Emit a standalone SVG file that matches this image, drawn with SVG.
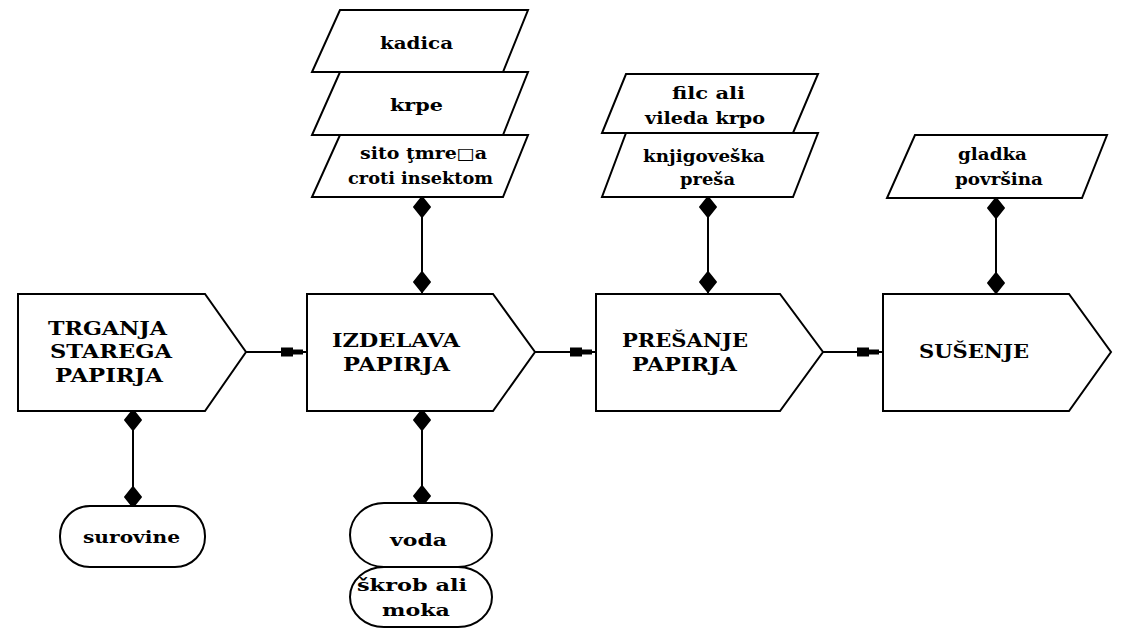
<svg xmlns="http://www.w3.org/2000/svg" xmlns:xlink="http://www.w3.org/1999/xlink" width="1123" height="628" viewBox="0 0 1123 628">
<style>
.shape{fill:#fff;stroke:#000;stroke-width:2;stroke-linejoin:miter}
.main{font-family:"DejaVu Serif","Liberation Serif",serif;font-weight:bold;font-size:18px;fill:#000}
.res{font-family:"DejaVu Serif","Liberation Serif",serif;font-weight:bold;font-size:16px;fill:#000}
.conn{stroke:#000;stroke-width:2;fill:none}
</style>
<defs>
<path id="dia" d="M0,-10 L8,0 L0,10 L-8,0 Z" fill="#000" stroke="#000" stroke-width="2" stroke-linejoin="round"/>
<marker id="arr" markerUnits="userSpaceOnUse" markerWidth="30" markerHeight="12" viewBox="0 -6 30 12" refX="26" refY="0" orient="auto">
<path d="M0,-4.5 H12 V-2.5 H22 V2.5 H12 V4.5 H0 Z" fill="#000"/>
</marker>
</defs>
<rect width="1123" height="628" fill="#fff"/>

<g id="connectors">
<line class="conn" x1="246" y1="352" x2="307" y2="352" marker-end="url(#arr)"/>
<line class="conn" x1="535" y1="352" x2="596" y2="352" marker-end="url(#arr)"/>
<line class="conn" x1="823" y1="352" x2="883" y2="352" marker-end="url(#arr)"/>
<line class="conn" x1="133" y1="411" x2="133" y2="506"/>
<use xlink:href="#dia" x="133" y="420"/>
<use xlink:href="#dia" x="133" y="497"/>
<line class="conn" x1="422" y1="197" x2="422" y2="294"/>
<use xlink:href="#dia" x="422" y="207"/>
<use xlink:href="#dia" x="422" y="282"/>
<line class="conn" x1="422" y1="411" x2="422" y2="503"/>
<use xlink:href="#dia" x="422" y="420"/>
<use xlink:href="#dia" x="422" y="496"/>
<line class="conn" x1="708" y1="197" x2="708" y2="294"/>
<use xlink:href="#dia" x="708" y="207"/>
<use xlink:href="#dia" x="708" y="282"/>
<line class="conn" x1="996" y1="198" x2="996" y2="294"/>
<use xlink:href="#dia" x="996" y="208"/>
<use xlink:href="#dia" x="996" y="283"/>
</g>

<g id="n-trganja">
<path class="shape" d="M18,294 H205 L246,352 L205,411 H18 Z"/>
<text class="main" x="48" y="335" textLength="119" lengthAdjust="spacingAndGlyphs">TRGANJA</text>
<text class="main" x="50" y="358" textLength="122" lengthAdjust="spacingAndGlyphs">STAREGA</text>
<text class="main" x="55" y="382" textLength="108" lengthAdjust="spacingAndGlyphs">PAPIRJA</text>
</g>

<g id="n-izdelava">
<path class="shape" d="M307,294 H493 L535,352 L493,411 H307 Z"/>
<text class="main" x="332" y="347" textLength="128" lengthAdjust="spacingAndGlyphs">IZDELAVA</text>
<text class="main" x="343" y="371" textLength="107" lengthAdjust="spacingAndGlyphs">PAPIRJA</text>
</g>

<g id="n-presanje">
<path class="shape" d="M596,294 H780 L823,352 L780,411 H596 Z"/>
<text class="main" x="622" y="347" textLength="126" lengthAdjust="spacingAndGlyphs">PREŠANJE</text>
<text class="main" x="632" y="371" textLength="105" lengthAdjust="spacingAndGlyphs">PAPIRJA</text>
</g>

<g id="n-susenje">
<path class="shape" d="M883,294 H1069 L1111,352 L1069,411 H883 Z"/>
<text class="main" x="919" y="358" textLength="110" lengthAdjust="spacingAndGlyphs">SUŠENJE</text>
</g>

<g id="r-kadica">
<path class="shape" d="M340,10 H528 L503,72 H312 Z"/>
<text class="res" x="380" y="49" textLength="73" lengthAdjust="spacingAndGlyphs">kadica</text>
</g>
<g id="r-krpe">
<path class="shape" d="M340,72 H528 L503,135 H312 Z"/>
<text class="res" x="390" y="111" textLength="53" lengthAdjust="spacingAndGlyphs">krpe</text>
</g>
<g id="r-sito">
<path class="shape" d="M340,135 H528 L503,197 H312 Z"/>
<text class="res" x="360" y="159" textLength="127" lengthAdjust="spacingAndGlyphs">sito ţmre□a</text>
<text class="res" x="348" y="184" textLength="145" lengthAdjust="spacingAndGlyphs">croti insektom</text>
</g>

<g id="r-filc">
<path class="shape" d="M626,74 H818 L793,133 H602 Z"/>
<text class="res" x="672" y="99" textLength="73" lengthAdjust="spacingAndGlyphs">filc ali</text>
<text class="res" x="645" y="124" textLength="120" lengthAdjust="spacingAndGlyphs">vileda krpo</text>
</g>
<g id="r-presa">
<path class="shape" d="M626,133 H818 L793,197 H602 Z"/>
<text class="res" x="643" y="162" textLength="122" lengthAdjust="spacingAndGlyphs">knjigoveška</text>
<text class="res" x="680" y="185" textLength="55" lengthAdjust="spacingAndGlyphs">preša</text>
</g>

<g id="r-gladka">
<path class="shape" d="M915,135 H1107 L1082,198 H887 Z"/>
<text class="res" x="958" y="160" textLength="69" lengthAdjust="spacingAndGlyphs">gladka</text>
<text class="res" x="955" y="185" textLength="88" lengthAdjust="spacingAndGlyphs">površina</text>
</g>

<g id="r-surovine">
<rect class="shape" x="60" y="506" width="145" height="61" rx="30" ry="30"/>
<text class="res" x="83" y="543" textLength="97" lengthAdjust="spacingAndGlyphs">surovine</text>
</g>

<g id="r-voda">
<rect class="shape" x="350" y="503" width="142" height="64" rx="34" ry="32"/>
<text class="res" x="390" y="546" textLength="57" lengthAdjust="spacingAndGlyphs">voda</text>
</g>
<g id="r-skrob">
<rect class="shape" x="350" y="567" width="142" height="60" rx="34" ry="30"/>
<text class="res" x="357" y="591" textLength="110" lengthAdjust="spacingAndGlyphs">škrob ali</text>
<text class="res" x="382" y="616" textLength="68" lengthAdjust="spacingAndGlyphs">moka</text>
</g>
</svg>
